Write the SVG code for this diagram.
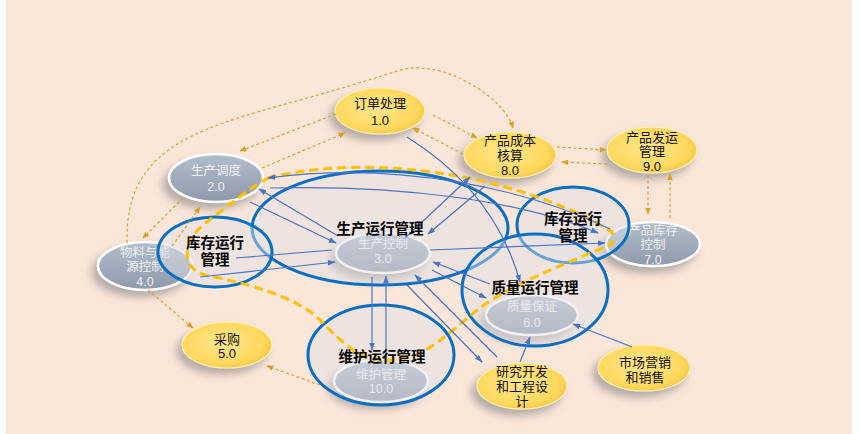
<svg xmlns="http://www.w3.org/2000/svg" width="859" height="434" viewBox="0 0 859 434">
<defs>
<style>
.od{fill:none;stroke:#D6A530;stroke-width:1.2;stroke-dasharray:3 2.5;marker-end:url(#ao)}
.bc{fill:none;stroke:#4A74C8;stroke-width:1.2;marker-end:url(#ab)}
.bn{fill:none;stroke:#4A74C8;stroke-width:1.2}
.yn{fill:url(#yg);stroke:#FFF2B8;stroke-width:1.2;filter:url(#sh)}
.gn{fill:url(#gg);stroke:#FFFFFF;stroke-width:2.5;filter:url(#sh)}
.yt{font-family:"Liberation Sans","Noto Sans CJK SC",sans-serif;font-size:13px;fill:#111;text-anchor:middle}
.gt{font-family:"Liberation Sans","Noto Sans CJK SC",sans-serif;font-size:12.5px;fill:#EEF1F5;text-anchor:middle}
.ge{fill:#E0E0E6;fill-opacity:0.45;stroke:#0A6FC2;stroke-width:3}
.lt{font-family:"Liberation Sans","Noto Sans CJK SC",sans-serif;font-size:14.5px;font-weight:bold;fill:#000;text-anchor:middle}
</style>
<radialGradient id="yg" cx="0.45" cy="0.45" r="0.6">
<stop offset="0" stop-color="#FFE58C"/>
<stop offset="0.75" stop-color="#FFD95E"/>
<stop offset="1" stop-color="#F3C443"/>
</radialGradient>
<linearGradient id="gg" x1="0" y1="0" x2="0" y2="1">
<stop offset="0" stop-color="#B3BECB"/>
<stop offset="1" stop-color="#8E9AAB"/>
</linearGradient>
<filter id="sh" x="-30%" y="-30%" width="160%" height="180%">
<feDropShadow dx="-5" dy="6" stdDeviation="4" flood-color="#7A7A7A" flood-opacity="0.55"/>
</filter>
<marker id="ao" viewBox="0 0 10 10" refX="9" refY="5" markerWidth="7" markerHeight="7" orient="auto" markerUnits="userSpaceOnUse">
<path d="M0,1 L10,5 L0,9 z" fill="#D6A020"/>
</marker>
<marker id="ab" viewBox="0 0 10 10" refX="9" refY="5" markerWidth="8" markerHeight="8" orient="auto" markerUnits="userSpaceOnUse">
<path d="M0,1.5 L10,5 L0,8.5 z" fill="#4A74C8"/>
</marker>
</defs>
<rect x="0" y="0" width="859" height="434" fill="#FFFFFF"/>
<rect x="6" y="0" width="846" height="434" fill="#FBE6DA"/>

<g id="n1"><ellipse class="yn" cx="380" cy="111" rx="45" ry="23"/><text class="yt" x="380" y="108">订单处理</text><text class="yt" x="380" y="125">1.0</text></g>
<g id="n2"><ellipse class="gn" cx="216" cy="178" rx="47" ry="24"/><text class="gt" x="216" y="175">生产调度</text><text class="gt" x="216" y="191">2.0</text></g>
<g id="n3"><ellipse class="gn" cx="383" cy="253" rx="47" ry="20"/><text class="gt" x="383" y="248">生产控制</text><text class="gt" x="383" y="263">3.0</text></g>
<g id="n4"><ellipse class="gn" cx="145" cy="266" rx="47" ry="24"/><text class="gt" x="145" y="257">物料与能</text><text class="gt" x="145" y="271">源控制</text><text class="gt" x="145" y="286">4.0</text></g>
<g id="n5"><ellipse class="yn" cx="227" cy="345" rx="45" ry="23"/><text class="yt" x="227" y="344">采购</text><text class="yt" x="227" y="358">5.0</text></g>
<g id="n6"><ellipse class="gn" cx="532" cy="315" rx="46" ry="20"/><text class="gt" x="532" y="311">质量保证</text><text class="gt" x="532" y="327">6.0</text></g>
<g id="n7"><ellipse class="gn" cx="653" cy="244" rx="47" ry="22"/><text class="gt" x="653" y="235">产品库存</text><text class="gt" x="653" y="249">控制</text><text class="gt" x="653" y="264">7.0</text></g>
<g id="n8"><ellipse class="yn" cx="510" cy="155" rx="46" ry="23"/><text class="yt" x="510" y="145">产品成本</text><text class="yt" x="510" y="160">核算</text><text class="yt" x="510" y="175">8.0</text></g>
<g id="n9"><ellipse class="yn" cx="652" cy="150" rx="45" ry="23"/><text class="yt" x="652" y="142">产品发运</text><text class="yt" x="652" y="156">管理</text><text class="yt" x="652" y="171">9.0</text></g>
<g id="n10"><ellipse class="gn" cx="381" cy="381" rx="47" ry="21"/><text class="gt" x="381" y="379">维护管理</text><text class="gt" x="381" y="393">10.0</text></g>
<g id="n11"><ellipse class="yn" cx="522" cy="386" rx="45" ry="23"/><text class="yt" x="522" y="376">研究开发</text><text class="yt" x="522" y="391">和工程设</text><text class="yt" x="522" y="406">计</text></g>
<g id="n12"><ellipse class="yn" cx="644" cy="368" rx="46" ry="23"/><text class="yt" x="645" y="367">市场营销</text><text class="yt" x="645" y="382">和销售</text></g>

<g id="g-prod"><ellipse class="ge" cx="380" cy="228" rx="128" ry="57"/></g>
<g id="g-inv-left"><ellipse class="ge" cx="215" cy="252" rx="57" ry="35"/></g>
<g id="g-inv-right"><ellipse class="ge" cx="573" cy="225" rx="56" ry="38"/></g>
<g id="g-qual"><ellipse class="ge" cx="535" cy="290" rx="73" ry="56"/></g>
<g id="g-maint"><ellipse class="ge" cx="381" cy="355" rx="73" ry="50"/></g>

<g id="connectors">
<path d="M268,178 C380,150 530,180 612,232 L612,244 C580,258 525,278 487,303 C455,325 430,358 393,360 C360,362 345,345 320,320 C295,295 240,282 205,275 C180,268 182,240 207,222 C225,208 250,188 268,178 Z" fill="none" stroke="#FFC000" stroke-width="3" stroke-dasharray="9 5"/>
<path class="od" d="M127,243 C125,150 190,130 300,100 C410,70 400,65 430,69 C460,73 505,100 513,128"/>
<path class="od" d="M183,198 L143,238"/>
<path class="od" d="M172,246 L200,207"/>
<path class="od" d="M336,114 L240,151"/>
<path class="od" d="M262,168 L345,133"/>
<path class="od" d="M433,115 L477,138"/>
<path class="od" d="M463,154 L413,128"/>
<path class="od" d="M557,147 L606,150"/>
<path class="od" d="M607,164 L562,162"/>
<path class="od" d="M648,175 L648,214"/>
<path class="od" d="M670,218 L670,174"/>
<path class="od" d="M148,290 L193,328"/>
<path class="od" d="M320,385 L267,366"/>

<path class="bc" d="M610,229 C530,190 400,160 268,178"/>
<path class="bc" d="M270,188 C400,185 520,200 598,233"/>
<path class="bc" d="M430,250 L605,243"/>
<path class="bc" d="M250,202 L336,243"/>
<path class="bc" d="M338,236 L259,189"/>
<path class="bc" d="M405,238 L470,177"/>
<path class="bc" d="M485,186 L428,234"/>
<path class="bc" d="M407,137 Q495,192 520,282"/>
<path class="bc" d="M200,277 L335,262"/>
<path class="bn" d="M332,250 L236,258"/>
<path class="bc" d="M372,277 L372,350"/>
<path class="bc" d="M386,358 L386,276"/>
<path class="bc" d="M490,284 L433,262"/>
<path class="bc" d="M432,270 L486,298"/>
<path class="bc" d="M407,285 L482,362"/>
<path class="bc" d="M497,357 L415,275"/>
<path class="bc" d="M520,362 L530,337"/>
<path class="bc" d="M632,347 L573,324"/>
</g>

<g id="labels">
<text class="lt" x="380" y="234">生产运行管理</text>
<text class="lt" x="215" y="248">库存运行</text>
<text class="lt" x="215" y="265">管理</text>
<text class="lt" x="573" y="224">库存运行</text>
<text class="lt" x="573" y="241">管理</text>
<text class="lt" x="535" y="293">质量运行管理</text>
<text class="lt" x="382" y="362">维护运行管理</text>
</g>
</svg>
